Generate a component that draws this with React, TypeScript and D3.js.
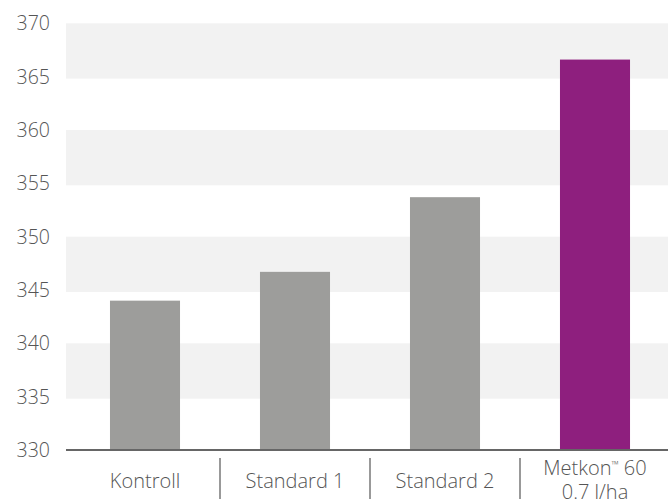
import React from "react";
import * as d3 from "d3";

const categories = ["Kontroll", "Standard 1", "Standard 2", "Metkon™ 60|0.7 l/ha"];
const values = [344.0, 346.7, 353.7, 366.6];
const barColors = ["#9d9d9b", "#9d9d9b", "#9d9d9b", "#8e1f7e"];
const yTicks = [330, 335, 340, 345, 350, 355, 360, 365, 370];
const bandPairs: [number, number][] = [[365, 370], [355, 360], [345, 350], [335, 340]];

const W = 668;
const H = 499;
const plotLeft = 66;
const font = "'Open Sans', Lato, sans-serif";

function renderLine(l: string) {
  const parts = l.split("™");
  if (parts.length === 1) return l;
  return (
    <>
      {parts[0]}
      <tspan fontSize={10} dy={-7}>™</tspan>
      <tspan dy={7}>{parts[1]}</tspan>
    </>
  );
}

export default function App() {
  const y = d3.scaleLinear().domain([330, 370]).range([450, 23.3]);
  const x = d3.scaleBand<string>().domain(categories).range([70, 670]).padding(0);
  const bw = x.bandwidth();
  const barW = bw * 0.467;

  return (
    <svg width={W} height={H} style={{ position: "absolute", left: 0, top: 0, display: "block" }}>
      <rect x={0} y={0} width={W} height={H} fill="#ffffff" />
      {bandPairs.map(([lo, hi], i) => (
        <rect key={i} x={plotLeft} y={y(hi)} width={W - plotLeft} height={y(lo) - y(hi) + 2} fill="#f2f2f2" />
      ))}
      {yTicks.map((t) => (
        <text key={t} x={50} y={y(t)} dy="0.36em" textAnchor="end" fontFamily={font} fontWeight={300} fontSize={19.5} fill="#555">
          {t}
        </text>
      ))}
      {categories.map((c, i) => (
        <rect key={c} x={(x(c) as number) + (bw - barW) / 2} y={y(values[i])} width={barW} height={y(330) - y(values[i])} fill={barColors[i]} />
      ))}
      <line x1={plotLeft} x2={W} y1={y(330)} y2={y(330)} stroke="#666" strokeWidth={2.2} />
      {categories.slice(1).map((c) => (
        <line key={c} x1={x(c) as number} x2={x(c) as number} y1={458} y2={H} stroke="#777" strokeWidth={1.5} />
      ))}
      {categories.map((c) => {
        const lines = c.split("|");
        const cx = (x(c) as number) + bw / 2;
        const baseY = lines.length === 1 ? 488 : 475;
        return (
          <g key={c}>
            {lines.map((l, j) => (
              <text key={j} x={cx} y={baseY + j * 24} textAnchor="middle" fontFamily={font} fontWeight={300} fontSize={20} fill="#555">
                {renderLine(l)}
              </text>
            ))}
          </g>
        );
      })}
    </svg>
  );
}
